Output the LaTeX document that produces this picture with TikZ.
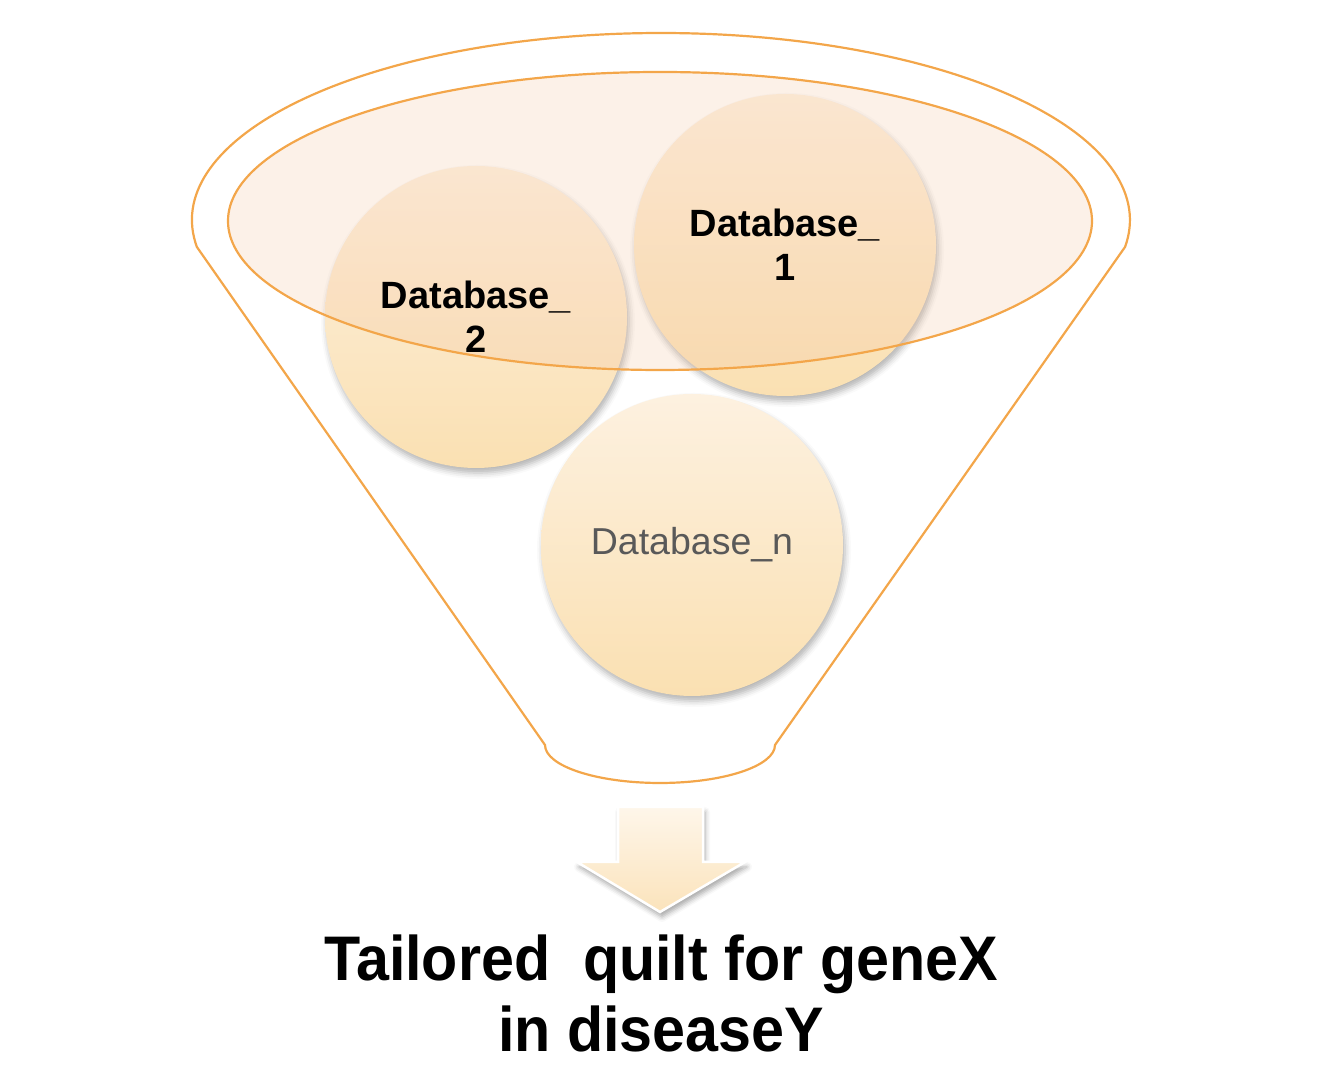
\documentclass[tikz,border=0pt]{standalone}
\usepackage{fontspec}
\setmainfont{Liberation Sans}
\newfontfamily\titlefont[FakeStretch=0.94]{Liberation Sans}
\usetikzlibrary{shadows.blur}
\definecolor{funnelline}{HTML}{F3A64A}
\definecolor{circtop}{HTML}{FDF1E0}
\definecolor{circbot}{HTML}{FAE0B2}
\definecolor{ellfill}{HTML}{F4C4A0}
\definecolor{arrtop}{HTML}{FEF6EA}
\definecolor{arrbot}{HTML}{FBE3BB}
\definecolor{graytext}{HTML}{595959}
\begin{document}
\begin{tikzpicture}[x=1pt,y=1pt,
  db/.style={circle, minimum size=302pt, inner sep=0pt, top color=circtop, bottom color=circbot, draw=none,
    blur shadow={shadow xshift=2pt, shadow yshift=-5pt, shadow blur radius=6pt, shadow opacity=30}},
  dblabel/.style={font=\bfseries\fontsize{38}{44}\selectfont, align=center, text=black},
  dbnlabel/.style={font=\fontsize{37.5}{44}\selectfont, text=graytext},
  funnel/.style={draw=funnelline, line width=2.2pt},
  bigarrow/.style={draw=white, line width=2.5pt, top color=arrtop, bottom color=arrbot,
    blur shadow={shadow xshift=2pt, shadow yshift=-5pt, shadow blur radius=5pt, shadow opacity=35}},
  titletext/.style={font=\titlefont\bfseries\fontsize{63}{71}\selectfont, align=center, text=black}
]
\useasboundingbox (0,0) rectangle (1339,1075);
% funnel outline
\draw[funnel] (545,330) -- (196.9,828)
  arc[start angle=188.3, end angle=-8.3, x radius=469, y radius=187]
  -- (775,330)
  arc[start angle=0, end angle=-180, x radius=115, y radius=38] -- cycle;
% circles
\node[db] (c2) at (476,758) {};
\node[db] (c1) at (785,830) {};
\node[db] (cn) at (692,530) {};
% inner ellipse (translucent)
\draw[funnel, fill=ellfill, fill opacity=0.24] (660,854) ellipse[x radius=432, y radius=149];
% labels
\node[dblabel] (l2) at (c2) {Database\_\\2};
\node[dblabel] (l1) at (c1) {Database\_\\1};
\node[dbnlabel] (ln) at (cn) {Database\_n};
% arrow
\draw[bigarrow] (618,268) -- (703,268) -- (703,213) -- (745,213) -- (660,163) -- (577,213) -- (618,213) -- cycle;
% title
\node[titletext] (title) at (661,82) {Tailored\ \ quilt for geneX\\in diseaseY};
\end{tikzpicture}
\end{document}
